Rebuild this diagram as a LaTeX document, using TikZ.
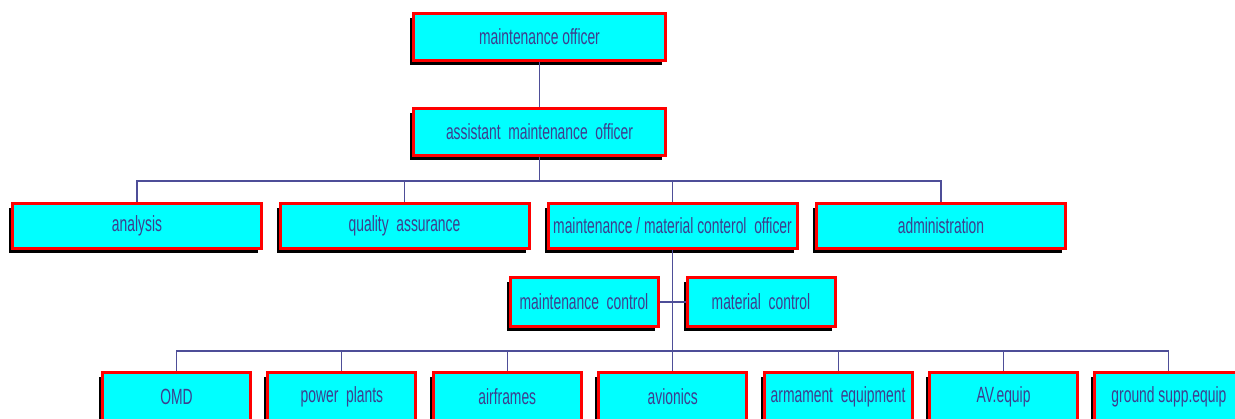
\documentclass[tikz,border=0pt]{standalone}
\usepackage{fontspec}
\newfontfamily\orgfont[FakeStretch=0.63]{Liberation Sans}
\usetikzlibrary{shadows}
\definecolor{txtblue}{HTML}{3E3E8E}
\definecolor{linkblue}{HTML}{4E4E98}
\definecolor{boxcyan}{HTML}{00FFFF}
\definecolor{boxred}{HTML}{FF0000}
\begin{document}
\begin{tikzpicture}[x=1pt,y=-1pt,
  orgbox/.style={draw=boxred, line width=3pt, fill=boxcyan, inner sep=0pt,
    minimum height=#1, text=txtblue, font=\orgfont\fontsize{22}{26}\selectfont,
    drop shadow={shadow xshift=-3.5pt, shadow yshift=-4.5pt, opacity=1, fill=black}},
  orgbox/.default=45pt,
  wide/.style={minimum width=249pt},
  narrow/.style={minimum width=148pt},
  link/.style={draw=linkblue, line width=1.1pt}]
\useasboundingbox (0,0) rectangle (1235,419);
% top
\node[orgbox=47pt, minimum width=252pt] (mo) at (539.5,37) {maintenance officer};
\node[orgbox=47pt, minimum width=252pt] (amo) at (539.5,132) {assistant\ \ maintenance\ \ officer};
% row 2
\node[orgbox, wide] (an) at (137,226) {analysis};
\node[orgbox, wide] (qa) at (404.5,226) {quality\ \ assurance};
\node[orgbox, wide] (mm) at (672.5,226) {maintenance / material conterol\ \ officer};
\node[orgbox, wide] (ad) at (941,226) {administration};
% row 3
\node[orgbox=49pt, narrow] (mc) at (584,302) {maintenance\ \ control};
\node[orgbox=49pt, narrow] (mat) at (761,302) {material\ \ control};
% row 4
\node[orgbox=49pt, narrow] (omd) at (176.5,397) {OMD};
\node[orgbox=49pt, narrow] (pp) at (341.9,397) {power\ \ plants};
\node[orgbox=49pt, narrow] (af) at (507.3,397) {airframes};
\node[orgbox=49pt, narrow] (av) at (672.7,397) {avionics};
\node[orgbox=49pt, narrow] (ae) at (838.1,397) {armament\ \ equipment};
\node[orgbox=49pt, narrow] (ave) at (1003.5,397) {AV.equip};
\node[orgbox=49pt, narrow] (gs) at (1168.9,397) {ground supp.equip};
% bus coordinates
\coordinate (busA) at (539.5,181);
\coordinate (busB) at (672.5,351);
% connectors
\path[link] (mo.south) -- (amo.north);
\path[link] (amo.south) -- (busA);
\path[link] (an.north) |- (busA) -| (ad.north);
\path[link] (qa.north) -- (qa.north |- busA);
\path[link] (mm.north) -- (mm.north |- busA);
\path[link] (mm.south) -- (busB);
\path[link] (mc.east) -- (mat.west);
\path[link] (omd.north) |- (busB) -| (gs.north);
\foreach \n in {pp,af,av,ae,ave}{
  \path[link] (\n.north) -- (\n.north |- busB);
}
\end{tikzpicture}
\end{document}
